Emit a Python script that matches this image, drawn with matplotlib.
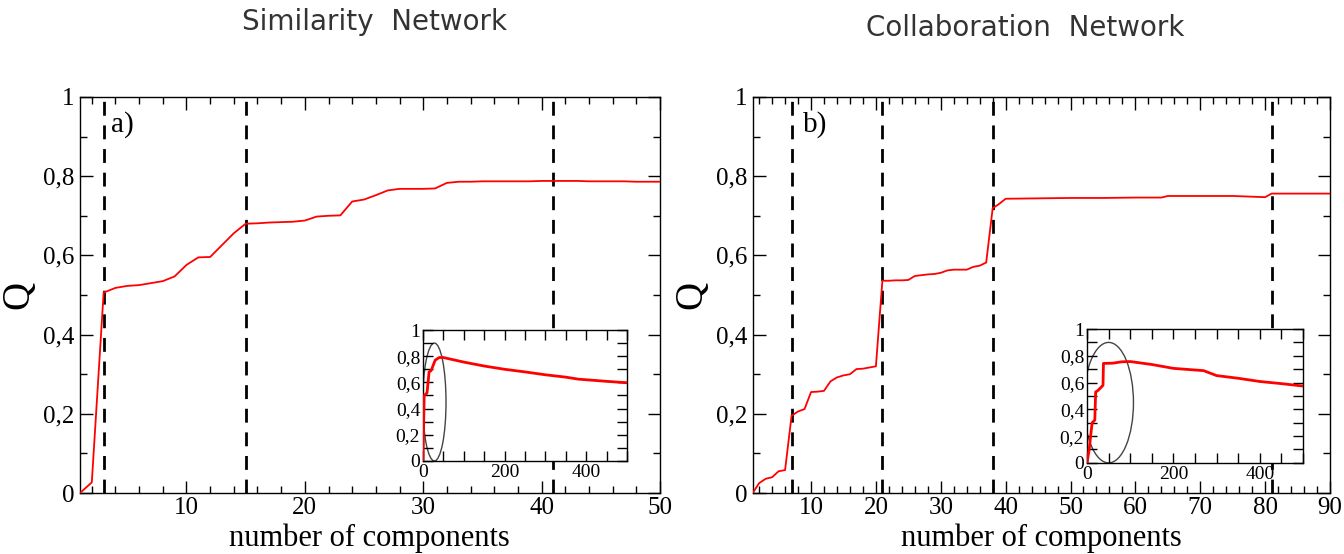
import numpy as np
import matplotlib
matplotlib.use("Agg")
import matplotlib.pyplot as plt
from matplotlib.patches import Ellipse
from matplotlib.ticker import MultipleLocator, FixedLocator

# panel a) similarity network
sim_x = list(range(1, 51))
sim_q = [0.0, 0.027, 0.506, 0.518, 0.523, 0.525, 0.530, 0.535, 0.547, 0.576,
         0.595, 0.596, 0.626, 0.656, 0.680, 0.681, 0.683, 0.684, 0.685, 0.688,
         0.698, 0.700, 0.701, 0.736, 0.741, 0.752, 0.764, 0.768, 0.768, 0.768,
         0.769, 0.783, 0.786, 0.786, 0.787, 0.787, 0.787, 0.787, 0.787, 0.788,
         0.788, 0.788, 0.788, 0.787, 0.787, 0.787, 0.787, 0.786, 0.786, 0.786]
sim_cuts = [3, 15, 41]
sim_inset_x = [0, 3, 10, 15, 20, 30, 40, 50, 100, 150, 200, 250, 300, 350, 380, 400, 450, 500]
sim_inset_q = [0.0, 0.50, 0.52, 0.68, 0.69, 0.77, 0.79, 0.79, 0.755, 0.725, 0.70, 0.68,
               0.658, 0.640, 0.625, 0.620, 0.608, 0.597]

# panel b) collaboration network
col_x = list(range(1, 41)) + [45, 50, 55, 60, 64, 65, 70, 75, 80, 81, 85, 90]
col_q = [0.0, 0.025, 0.036, 0.040, 0.055, 0.058, 0.195, 0.206, 0.212, 0.255,
         0.256, 0.258, 0.282, 0.292, 0.297, 0.300, 0.313, 0.314, 0.317, 0.320,
         0.536, 0.536, 0.537, 0.537, 0.538, 0.548, 0.550, 0.552, 0.553, 0.556,
         0.562, 0.564, 0.564, 0.564, 0.571, 0.574, 0.582, 0.719, 0.730, 0.743,
         0.744, 0.745, 0.745, 0.746, 0.746, 0.750, 0.750, 0.750, 0.747, 0.756,
         0.756, 0.756]
col_cuts = [7, 21, 38, 81]
col_inset_x = [0, 5, 10, 12, 18, 20, 25, 33, 37, 38, 60, 80, 100, 150, 200, 270,
               300, 350, 400, 450, 500]
col_inset_q = [0.0, 0.10, 0.25, 0.30, 0.32, 0.53, 0.54, 0.566, 0.58, 0.743, 0.745,
               0.755, 0.757, 0.735, 0.706, 0.689, 0.652, 0.632, 0.608, 0.592, 0.574]

SERIF = "Liberation Serif"

fig = plt.figure(figsize=(13.44, 5.54), dpi=100)


def q_fmt(v, pos):
    v = round(v, 2)
    if v == 0:
        return "0"
    if v == 1:
        return "1"
    return f"{v:.1f}".replace(".", ",")


def style_axis(ax, fs, major_len, minor_len):
    ax.tick_params(which="both", direction="in", top=True, right=True,
                   labelsize=fs, width=1, pad=4)
    ax.tick_params(which="major", length=major_len)
    ax.tick_params(which="minor", length=minor_len)
    for lab in ax.get_xticklabels() + ax.get_yticklabels():
        lab.set_family(SERIF)
    for s in ax.spines.values():
        s.set_linewidth(1)
    ax.yaxis.set_major_formatter(plt.FuncFormatter(q_fmt))


def panel(rect, x, q, cuts, xmax, label, lab_x, inset_rect, ix, iq, ell):
    ax = fig.add_axes(rect)
    ax.plot(x, q, color="#ff0000", lw=1.3, zorder=3)
    for c in cuts:
        ax.axvline(c, color="black", lw=2, ls=(0, (5, 3.5)), zorder=2)
    ax.set_xlim(1, xmax)
    ax.set_ylim(0, 1)
    ax.xaxis.set_major_locator(FixedLocator(list(range(10, xmax + 1, 10))))
    ax.xaxis.set_minor_locator(MultipleLocator(2))
    ax.yaxis.set_major_locator(MultipleLocator(0.2))
    ax.yaxis.set_minor_locator(MultipleLocator(0.1))
    style_axis(ax, 18, 9, 5)
    ax.tick_params(axis="x", pad=3)
    ax.text(lab_x, 0.93, label, family=SERIF, fontsize=21, va="center", ha="left")
    ax.set_ylabel("Q", family=SERIF, fontsize=28, labelpad=4)

    ins = fig.add_axes(inset_rect)
    ins.plot(ix, iq, color="#ff0000", lw=2, zorder=3)
    ins.add_patch(Ellipse(ell[0], ell[1], ell[2], fill=False, ec="#444444", lw=1))
    ins.set_xlim(0, 500)
    ins.set_ylim(0, 1)
    ins.xaxis.set_major_locator(FixedLocator([0, 200, 400]))
    ins.xaxis.set_minor_locator(MultipleLocator(50))
    ins.yaxis.set_major_locator(MultipleLocator(0.2))
    ins.yaxis.set_minor_locator(MultipleLocator(0.1))
    style_axis(ins, 14, 7, 7)
    ins.tick_params(pad=2)
    return ax


panel([0.0595, 0.110, 0.4315, 0.715], sim_x, sim_q, sim_cuts, 50, "a)", 3.6,
      [0.3147, 0.1680, 0.1518, 0.2363], sim_inset_x, sim_inset_q,
      ((28, 0.45), 57, 0.9))
panel([0.560, 0.110, 0.4296, 0.715], col_x, col_q, col_cuts, 90, "b)", 8.7,
      [0.8088, 0.1645, 0.1607, 0.2416], col_inset_x, col_inset_q,
      ((50, 0.45), 115, 0.9))

for cx in (0.275, 0.775):
    fig.text(cx, 0.002, "number of components", family=SERIF, fontsize=22,
             ha="center", va="bottom")

fig.text(375 / 1344, 1 - 22 / 554, "Similarity  Network", fontsize=20,
         color="#333333", ha="center", va="center")
fig.text(1025 / 1344, 1 - 28 / 554, "Collaboration  Network", fontsize=20,
         color="#333333", ha="center", va="center")

fig.savefig("out.png", dpi=100)
